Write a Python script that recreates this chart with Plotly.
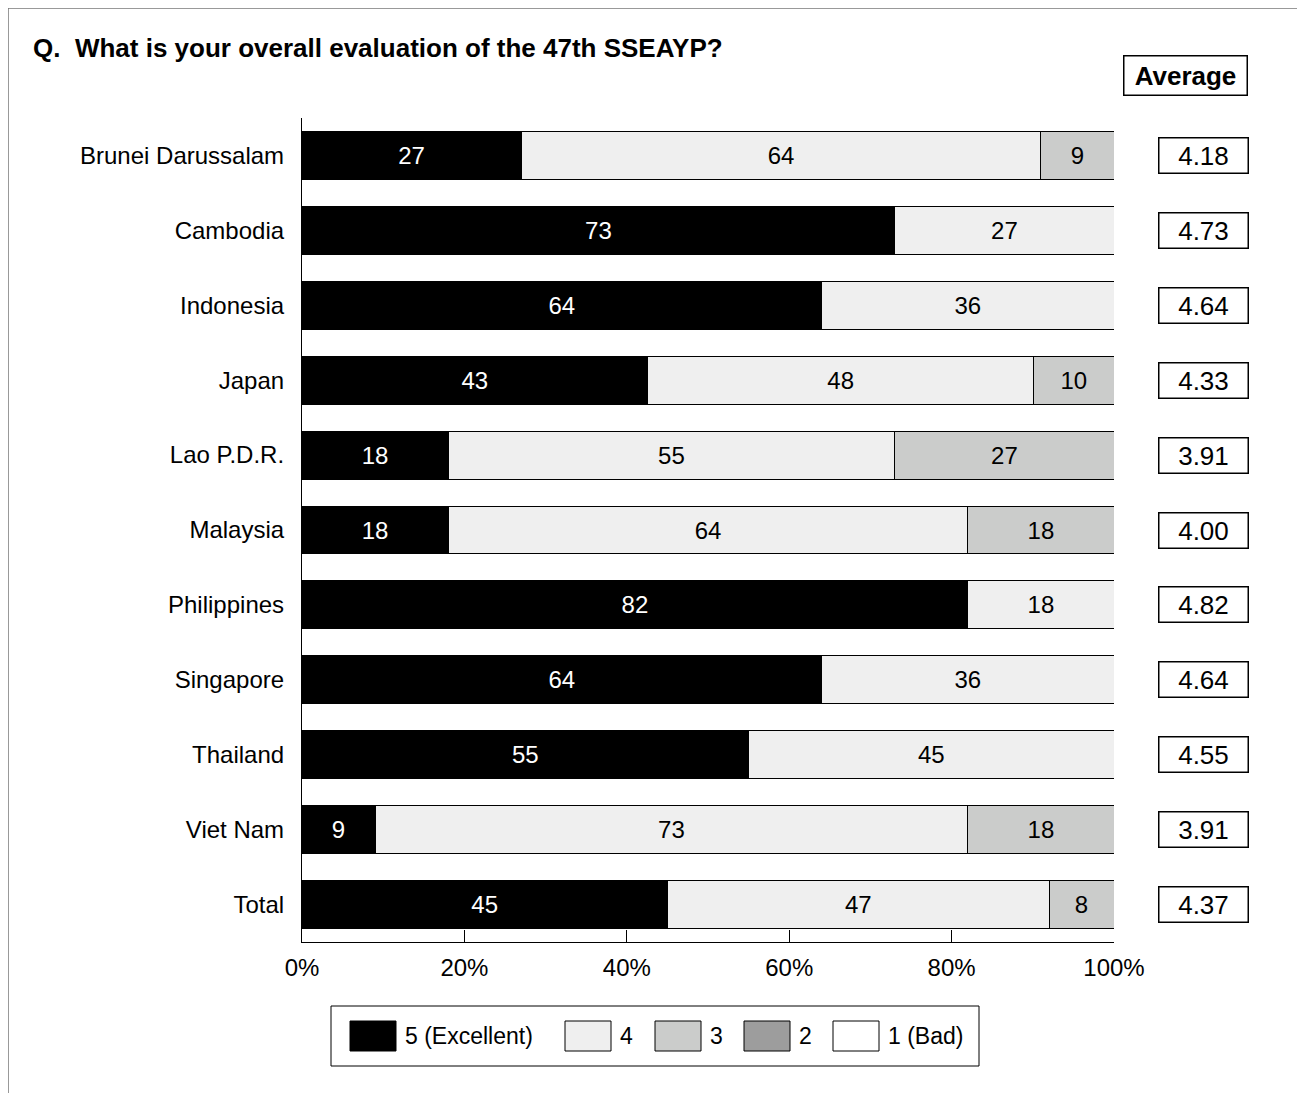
import plotly.graph_objects as go

countries = ["Brunei Darussalam", "Cambodia", "Indonesia", "Japan", "Lao P.D.R.",
             "Malaysia", "Philippines", "Singapore", "Thailand", "Viet Nam", "Total"]
s5 = [27, 73, 64, 43, 18, 18, 82, 64, 55, 9, 45]
s4 = [64, 27, 36, 48, 55, 64, 18, 36, 45, 73, 47]
s3 = [9, 0, 0, 10, 27, 18, 0, 0, 0, 18, 8]
s2 = [0, 0, 0, 0, 0, 0, 0, 0, 0, 0, 0]
s1 = [0, 0, 0, 0, 0, 0, 0, 0, 0, 0, 0]
averages = ["4.18", "4.73", "4.64", "4.33", "3.91", "4.00", "4.82", "4.64", "4.55", "3.91", "4.37"]
series_names = ["5 (Excellent)", "4", "3", "2", "1 (Bad)"]
series_colors = ["#000000", "#efefef", "#cbcccb", "#9d9d9d", "#ffffff"]
text_colors = ["#ffffff", "#000000", "#000000", "#000000", "#000000"]
xticks = [0, 20, 40, 60, 80, 100]

FONT = "Liberation Sans, Arial, Helvetica, sans-serif"
W, H = 1305, 1093
OFF = 8  # page body offset
L, R, T, B = 302, 1114, 118, 942  # plot area in screen pixels

series = [s5, s4, s3, s2, s1]
totals = [sum(v) for v in zip(*series)]

fig = go.Figure()
for vals, name, col, tcol in zip(series, series_names, series_colors, text_colors):
    xs = [v / t * 100 if v else None for v, t in zip(vals, totals)]
    txt = [str(v) if v else "" for v in vals]
    fig.add_trace(go.Bar(
        y=countries, x=xs, name=name, orientation="h",
        marker=dict(color=col, line=dict(color="#000000", width=1)),
        text=txt, textposition="inside", insidetextanchor="middle",
        textangle=0, constraintext="none", cliponaxis=False,
        textfont=dict(color=tcol, size=24, family=FONT),
        width=0.64, showlegend=False, hoverinfo="skip",
    ))

def px(x):
    return (x - L) / (R - L)

def py(y):
    return (B - y) / (B - T)

annotations = []
annotations.append(dict(
    x=px(1185.5), y=py(76), xref="paper", yref="paper", text="<b>Average</b>",
    showarrow=False, font=dict(size=26, family=FONT, color="#000"),
    bordercolor="#000", borderwidth=1.5, borderpad=0, width=122, height=38,
    xanchor="center", yanchor="middle",
))
for c, a in zip(countries, averages):
    annotations.append(dict(
        x=px(1203), y=c, xref="paper", yref="y", text=a, showarrow=False,
        font=dict(size=26, family=FONT, color="#000"),
        bordercolor="#000", borderwidth=1.5, borderpad=0, width=88, height=34,
        xanchor="center", yanchor="middle",
    ))

shapes = []
shapes.append(dict(type="line", xref="paper", yref="paper", x0=px(8), x1=px(W + 10), y0=py(8), y1=py(8),
                   line=dict(color="#777777", width=1.5)))
shapes.append(dict(type="line", xref="paper", yref="paper", x0=px(8), x1=px(8), y0=py(8), y1=py(H + 10),
                   line=dict(color="#777777", width=1.5)))
shapes.append(dict(type="rect", xref="paper", yref="paper", x0=px(331), x1=px(979), y0=py(1006), y1=py(1066),
                   line=dict(color="#000", width=1), fillcolor="rgba(0,0,0,0)"))
sw_x = [350, 565, 655, 744, 833]
for sx, name, col in zip(sw_x, series_names, series_colors):
    shapes.append(dict(type="rect", xref="paper", yref="paper", x0=px(sx), x1=px(sx + 46),
                       y0=py(1021), y1=py(1051), line=dict(color="#000", width=1), fillcolor=col))
    annotations.append(dict(x=px(sx + 53), y=py(1036), xref="paper", yref="paper", text=name,
                            showarrow=False, xanchor="left", yanchor="middle",
                            font=dict(size=23, family=FONT, color="#000")))

fig.update_layout(
    width=W, height=H, barmode="stack",
    paper_bgcolor="#ffffff", plot_bgcolor="#ffffff",
    margin=dict(l=L - OFF, r=W - (R - OFF), t=T - OFF, b=H - (B - OFF)),
    font=dict(family=FONT, color="#000"),
    title=dict(text="<b>Q.  What is your overall evaluation of the 47th SSEAYP?</b>",
               x=(33 - OFF) / W, xanchor="left", y=1 - (48 - OFF) / H, yanchor="middle",
               font=dict(size=26, family=FONT, color="#000")),
    xaxis=dict(range=[0, 100], tickvals=xticks, ticktext=[f"{v}%" for v in xticks],
               ticks="inside", ticklen=12, tickcolor="#000", tickwidth=1,
               showline=True, linecolor="#000", linewidth=1.2, showgrid=False, zeroline=False,
               ticklabelstandoff=4,
               tickfont=dict(size=24, family=FONT, color="#000"), fixedrange=True),
    yaxis=dict(categoryorder="array", categoryarray=countries, autorange="reversed",
               showline=True, linecolor="#000", linewidth=1.2, showgrid=False, ticks="",
               ticklabelstandoff=12, tickfont=dict(size=24, family=FONT, color="#000")),
    annotations=annotations, shapes=shapes, bargap=0.36,
)

fig.write_html("out.html")
